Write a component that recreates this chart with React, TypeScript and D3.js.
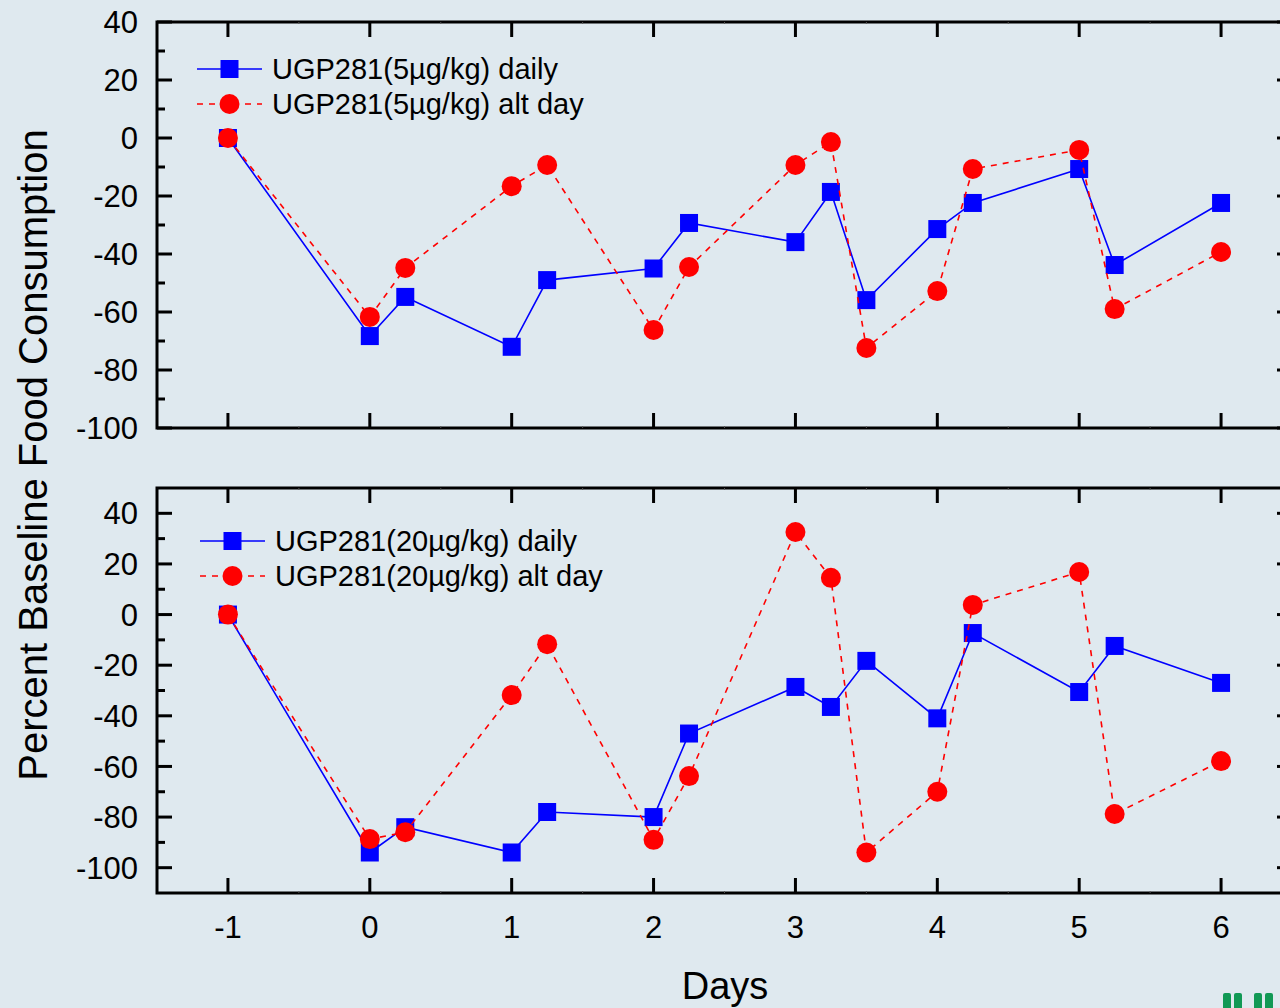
import React, { useEffect } from "react";
import * as d3 from "d3";

const days = [-1, 0, 0.25, 1, 1.25, 2, 2.25, 3, 3.25, 3.5, 4, 4.25, 5, 5.25, 6];

const top5Daily = [0, -68.3, -54.8, -72, -49, -45, -29.3, -35.9, -18.6, -55.9, -31.4, -22.4, -10.7, -43.8, -22.4];
const top5Alt = [0, -61.7, -44.8, -16.6, -9.3, -66.2, -44.5, -9.3, -1.4, -72.4, -52.8, -10.7, -4.1, -59, -39.3];

const bot20Daily = [0, -94, -84, -94, -78, -80, -47, -28.6, -36.5, -18.3, -41, -7.3, -30.6, -12.4, -27];
const bot20Alt = [0, -88.7, -86, -31.8, -11.7, -89, -63.8, 32.6, 14.5, -94, -70, 3.8, 16.8, -78.8, -57.9];

const xTicks = [-1, 0, 1, 2, 3, 4, 5, 6];
const topYTicks = [40, 20, 0, -20, -40, -60, -80, -100];
const botYTicks = [40, 20, 0, -20, -40, -60, -80, -100];

const legendTop = ["UGP281(5µg/kg) daily", "UGP281(5µg/kg) alt day"];
const legendBot = ["UGP281(20µg/kg) daily", "UGP281(20µg/kg) alt day"];

const W = 1280;
const H = 1008;
const BG = "#dfe9ef";
const BLUE = "#0000ff";
const RED = "#ff0000";
const FONT = "'Liberation Sans', Arial, sans-serif";

const x = d3.scaleLinear().domain([-1.5, 6.5]).range([157, 1292]);

type PanelProps = {
  y: d3.ScaleLinear<number, number>;
  yTicks: number[];
  minor: number[];
  daily: number[];
  alt: number[];
  legend: string[];
  legendX: number;
  legendY: number;
};

function Panel({ y, yTicks, minor, daily, alt, legend, legendX, legendY }: PanelProps) {
  const [x0, x1] = x.range();
  const [yb, yt] = y.range();
  const line = d3
    .line<number>()
    .x((_, i) => x(days[i]))
    .y((d) => y(d));
  const halfTicks = d3.range(-1.5, 6.51, 1).filter((v) => v > -1.5 && v < 6.5);
  return (
    <g>
      <path d={line(daily) || ""} fill="none" stroke={BLUE} strokeWidth={1.6} />
      {daily.map((v, i) => (
        <rect key={"s" + i} x={x(days[i]) - 9} y={y(v) - 9} width={18} height={18} fill={BLUE} />
      ))}
      <path d={line(alt) || ""} fill="none" stroke={RED} strokeWidth={1.6} strokeDasharray="6,6" />
      {alt.map((v, i) => (
        <circle key={"c" + i} cx={x(days[i])} cy={y(v)} r={10} fill={RED} />
      ))}
      <rect x={x0} y={yt} width={x1 - x0} height={yb - yt} fill="none" stroke="#000" strokeWidth={3} />
      {yTicks.map((t) => (
        <g key={"yt" + t}>
          <line x1={x0} x2={x0 + 15} y1={y(t)} y2={y(t)} stroke="#000" strokeWidth={3} />
          <line x1={x1} x2={x1 - 15} y1={y(t)} y2={y(t)} stroke="#000" strokeWidth={3} />
          <text x={138} y={y(t)} dy="0.36em" textAnchor="end" fontSize={31} fontFamily={FONT} fill="#000">
            {t}
          </text>
        </g>
      ))}
      {minor.map((t) => (
        <g key={"ym" + t}>
          <line x1={x0} x2={x0 + 8} y1={y(t)} y2={y(t)} stroke="#000" strokeWidth={3} />
          <line x1={x1} x2={x1 - 8} y1={y(t)} y2={y(t)} stroke="#000" strokeWidth={3} />
        </g>
      ))}
      {xTicks.map((t) => (
        <g key={"xt" + t}>
          <line x1={x(t)} x2={x(t)} y1={yt} y2={yt + 15} stroke="#000" strokeWidth={3} />
          <line x1={x(t)} x2={x(t)} y1={yb} y2={yb - 15} stroke="#000" strokeWidth={3} />
        </g>
      ))}
      {halfTicks.map((t) => (
        <g key={"xm" + t}>
          <line x1={x(t)} x2={x(t)} y1={yt} y2={yt + 2} stroke="#555" strokeWidth={1} />
          <line x1={x(t)} x2={x(t)} y1={yb} y2={yb - 2} stroke="#555" strokeWidth={1} />
        </g>
      ))}
      <g>
        <line x1={legendX} x2={legendX + 65} y1={legendY} y2={legendY} stroke={BLUE} strokeWidth={1.6} />
        <rect x={legendX + 32.5 - 9} y={legendY - 9} width={18} height={18} fill={BLUE} />
        <text x={legendX + 75} y={legendY} dy="0.36em" fontSize={29} fontFamily={FONT} fill="#000">
          {legend[0]}
        </text>
        <line
          x1={legendX}
          x2={legendX + 65}
          y1={legendY + 35}
          y2={legendY + 35}
          stroke={RED}
          strokeWidth={1.6}
          strokeDasharray="6,6"
        />
        <circle cx={legendX + 32.5} cy={legendY + 35} r={10} fill={RED} />
        <text x={legendX + 75} y={legendY + 35} dy="0.36em" fontSize={29} fontFamily={FONT} fill="#000">
          {legend[1]}
        </text>
      </g>
    </g>
  );
}

export default function App() {
  useEffect(() => {
    document.body.style.margin = "0";
    document.body.style.background = BG;
  }, []);

  const yTop = d3.scaleLinear().domain([-100, 40]).range([428, 22]);
  const yBot = d3.scaleLinear().domain([-110, 50]).range([893, 488]);
  const topMinor = d3.range(30, -100, -20);
  const botMinor = d3.range(30, -100, -20);

  return (
    <svg width={W} height={H} style={{ display: "block", background: BG }}>
      <rect x={0} y={0} width={W} height={H} fill={BG} />
      <Panel
        y={yTop}
        yTicks={topYTicks}
        minor={topMinor}
        daily={top5Daily}
        alt={top5Alt}
        legend={legendTop}
        legendX={197}
        legendY={69}
      />
      <Panel
        y={yBot}
        yTicks={botYTicks}
        minor={botMinor}
        daily={bot20Daily}
        alt={bot20Alt}
        legend={legendBot}
        legendX={200}
        legendY={541}
      />
      {xTicks.map((t) => (
        <text key={"xl" + t} x={x(t)} y={938} textAnchor="middle" fontSize={31} fontFamily={FONT} fill="#000">
          {t}
        </text>
      ))}
      <text x={725} y={999} textAnchor="middle" fontSize={38} fontFamily={FONT} fill="#000">
        Days
      </text>
      <text
        transform="translate(47,455) rotate(-90)"
        textAnchor="middle"
        fontSize={40}
        fontFamily={FONT}
        fill="#000"
      >
        Percent Baseline Food Consumption
      </text>
      <g fill="#119955">
        <rect x={1223} y={993} width={8} height={20} rx={2} />
        <rect x={1234} y={993} width={8} height={20} rx={2} />
        <rect x={1254} y={993} width={8} height={20} rx={2} />
        <rect x={1265} y={993} width={8} height={20} rx={2} />
      </g>
    </svg>
  );
}
